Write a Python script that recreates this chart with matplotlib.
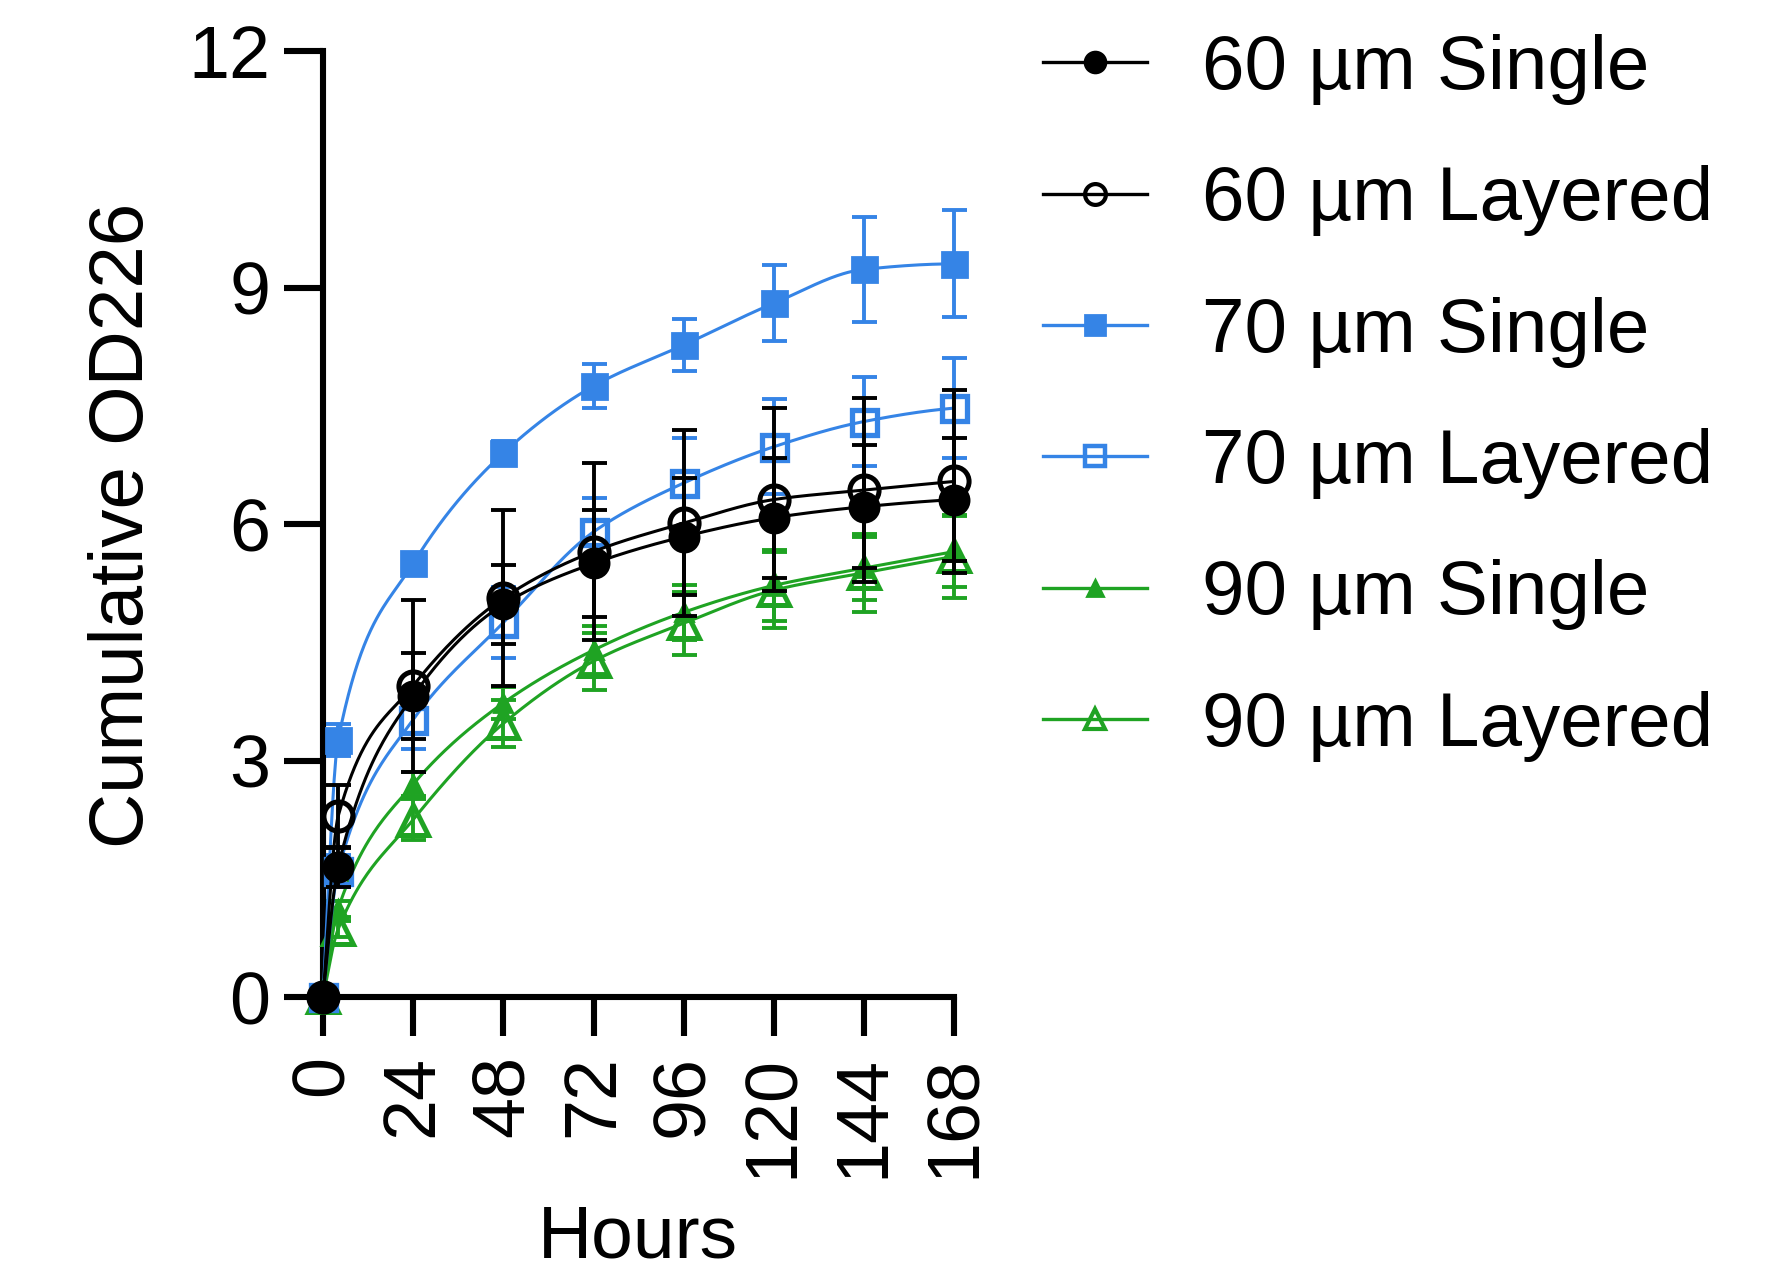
import numpy as np
import matplotlib
matplotlib.use("Agg")
import matplotlib.pyplot as plt
from matplotlib.lines import Line2D

# ---------------- data ----------------
hours = [0, 4, 24, 48, 72, 96, 120, 144, 168]
xticks = [0, 24, 48, 72, 96, 120, 144, 168]
yticks = [0, 3, 6, 9, 12]

labels = ["60 \u00b5m Single", "60 \u00b5m Layered", "70 \u00b5m Single",
          "70 \u00b5m Layered", "90 \u00b5m Single", "90 \u00b5m Layered"]

mean_60_single = [0, 1.65, 3.82, 4.98, 5.50, 5.84, 6.08, 6.22, 6.31]
err_60_single = [0, 0.25, 0.55, 0.50, 0.68, 0.74, 0.76, 0.78, 0.78]
mean_60_layered = [0, 2.29, 3.95, 5.06, 5.65, 6.01, 6.31, 6.43, 6.54]
err_60_layered = [0, 0.40, 1.09, 1.12, 1.12, 1.18, 1.16, 1.17, 1.16]
mean_70_single = [0, 3.26, 5.50, 6.90, 7.75, 8.27, 8.80, 9.23, 9.30]
err_70_single = [0, 0.20, 0.12, 0.15, 0.28, 0.33, 0.48, 0.67, 0.68]
mean_70_layered = [0, 1.60, 3.52, 4.75, 5.90, 6.52, 6.98, 7.30, 7.47]
err_70_layered = [0, 0.20, 0.38, 0.45, 0.43, 0.57, 0.60, 0.57, 0.63]
mean_90_single = [0, 1.12, 2.70, 3.73, 4.40, 4.88, 5.22, 5.44, 5.65]
err_90_single = [0, 0.10, 0.15, 0.20, 0.30, 0.35, 0.45, 0.40, 0.45]
mean_90_layered = [0, 0.86, 2.25, 3.47, 4.26, 4.74, 5.16, 5.38, 5.59]
err_90_layered = [0, 0.10, 0.26, 0.30, 0.36, 0.40, 0.48, 0.49, 0.53]

means = [mean_60_single, mean_60_layered, mean_70_single,
         mean_70_layered, mean_90_single, mean_90_layered]
errs = [err_60_single, err_60_layered, err_70_single,
        err_70_layered, err_90_single, err_90_layered]

# ---------------- styles ----------------
BLACK = "#000000"
BLUE = "#3584E6"
GREEN = "#1FA323"
colors = [BLACK, BLACK, BLUE, BLUE, GREEN, GREEN]
markers = ["o", "o", "s", "s", "^", "^"]
filled = [True, False, True, False, True, False]
msizes = [21, 21, 18, 18, 13, 22]
mews = [2.0, 3.6, 2.0, 3.8, 2.0, 3.6]
leg_msizes = [15, 15, 14, 14, 11, 15]
leg_mews = [2.0, 3.0, 2.0, 3.2, 2.0, 3.0]


def smooth_curve(x, y, n=400):
    """Monotone cubic (Fritsch-Carlson) curve through the data points."""
    x = np.asarray(x, float)
    y = np.asarray(y, float)
    h = np.diff(x)
    d = np.diff(y) / h
    m = np.zeros_like(y)
    for k in range(1, len(x) - 1):
        if d[k - 1] * d[k] > 0:
            w1 = 2 * h[k] + h[k - 1]
            w2 = h[k] + 2 * h[k - 1]
            m[k] = (w1 + w2) / (w1 / d[k - 1] + w2 / d[k])
    m0 = ((2 * h[0] + h[1]) * d[0] - h[0] * d[1]) / (h[0] + h[1])
    if np.sign(m0) != np.sign(d[0]):
        m0 = 0
    m[0] = m0
    mn = ((2 * h[-1] + h[-2]) * d[-1] - h[-1] * d[-2]) / (h[-1] + h[-2])
    if np.sign(mn) != np.sign(d[-1]):
        mn = 0
    m[-1] = mn
    xs = np.linspace(x[0], x[-1], n)
    idx = np.clip(np.searchsorted(x, xs) - 1, 0, len(x) - 2)
    t = (xs - x[idx]) / h[idx]
    h00 = 2 * t**3 - 3 * t**2 + 1
    h10 = t**3 - 2 * t**2 + t
    h01 = -2 * t**3 + 3 * t**2
    h11 = t**3 - t**2
    ys = (h00 * y[idx] + h10 * h[idx] * m[idx] + h01 * y[idx + 1]
          + h11 * h[idx] * m[idx + 1])
    return xs, ys


plt.rcParams["font.family"] = ["Liberation Sans", "DejaVu Sans"]

fig = plt.figure(figsize=(17.81, 12.82), dpi=100)
ax = fig.add_axes([0.1814, 0.2223, 0.3543, 0.7379])

handles = []
n = len(means)
for i in range(n):
    c = colors[i]
    z = 10 + (n - i) * 3
    xs, ys = smooth_curve(hours, means[i])
    ax.plot(xs, ys, color=c, lw=2.2, zorder=z, clip_on=False)
    ax.errorbar(hours, means[i], yerr=errs[i], fmt="none", ecolor=c,
                elinewidth=2.8, capsize=9, capthick=2.8, zorder=z + 1,
                clip_on=False)
    mfc = c if filled[i] else "none"
    ax.plot(hours, means[i], linestyle="none", marker=markers[i],
            markersize=msizes[i], markerfacecolor=mfc, markeredgecolor=c,
            markeredgewidth=mews[i], zorder=z + 2, clip_on=False)
    handles.append(Line2D([], [], color=c, lw=2.4, marker=markers[i],
                          markersize=leg_msizes[i], markerfacecolor=mfc,
                          markeredgecolor=c, markeredgewidth=leg_mews[i]))

ax.set_xlim(0, 168)
ax.set_ylim(0, 12)
ax.set_xticks(xticks)
ax.set_xticklabels([str(v) for v in xticks], rotation=90, va="top", ha="center")
ax.set_yticks(yticks)
ax.set_yticklabels([str(v) for v in yticks])

for s in ["top", "right"]:
    ax.spines[s].set_visible(False)
for s in ["left", "bottom"]:
    ax.spines[s].set_linewidth(4.4)
    ax.spines[s].set_capstyle("projecting")

ax.tick_params(axis="both", which="major", length=28, width=4.4,
               labelsize=53, color="black")
ax.tick_params(axis="y", pad=10)
ax.tick_params(axis="x", pad=14)

fig.text(124 / 1781, 1 - 525 / 1282, "Cumulative OD226", rotation=90,
         ha="center", va="center", fontsize=55)
fig.text(638 / 1781, 1 - 1238 / 1282, "Hours", ha="center", va="center",
         fontsize=54)

fig.legend(handles, labels, loc="upper left",
           bbox_to_anchor=(1043 / 1781, 1 - 34 / 1282),
           frameon=False, fontsize=55, handlelength=1.36,
           handletextpad=0.72, labelspacing=0.79, borderpad=0,
           borderaxespad=0)

fig.savefig("out.png", dpi=100, facecolor="white")
